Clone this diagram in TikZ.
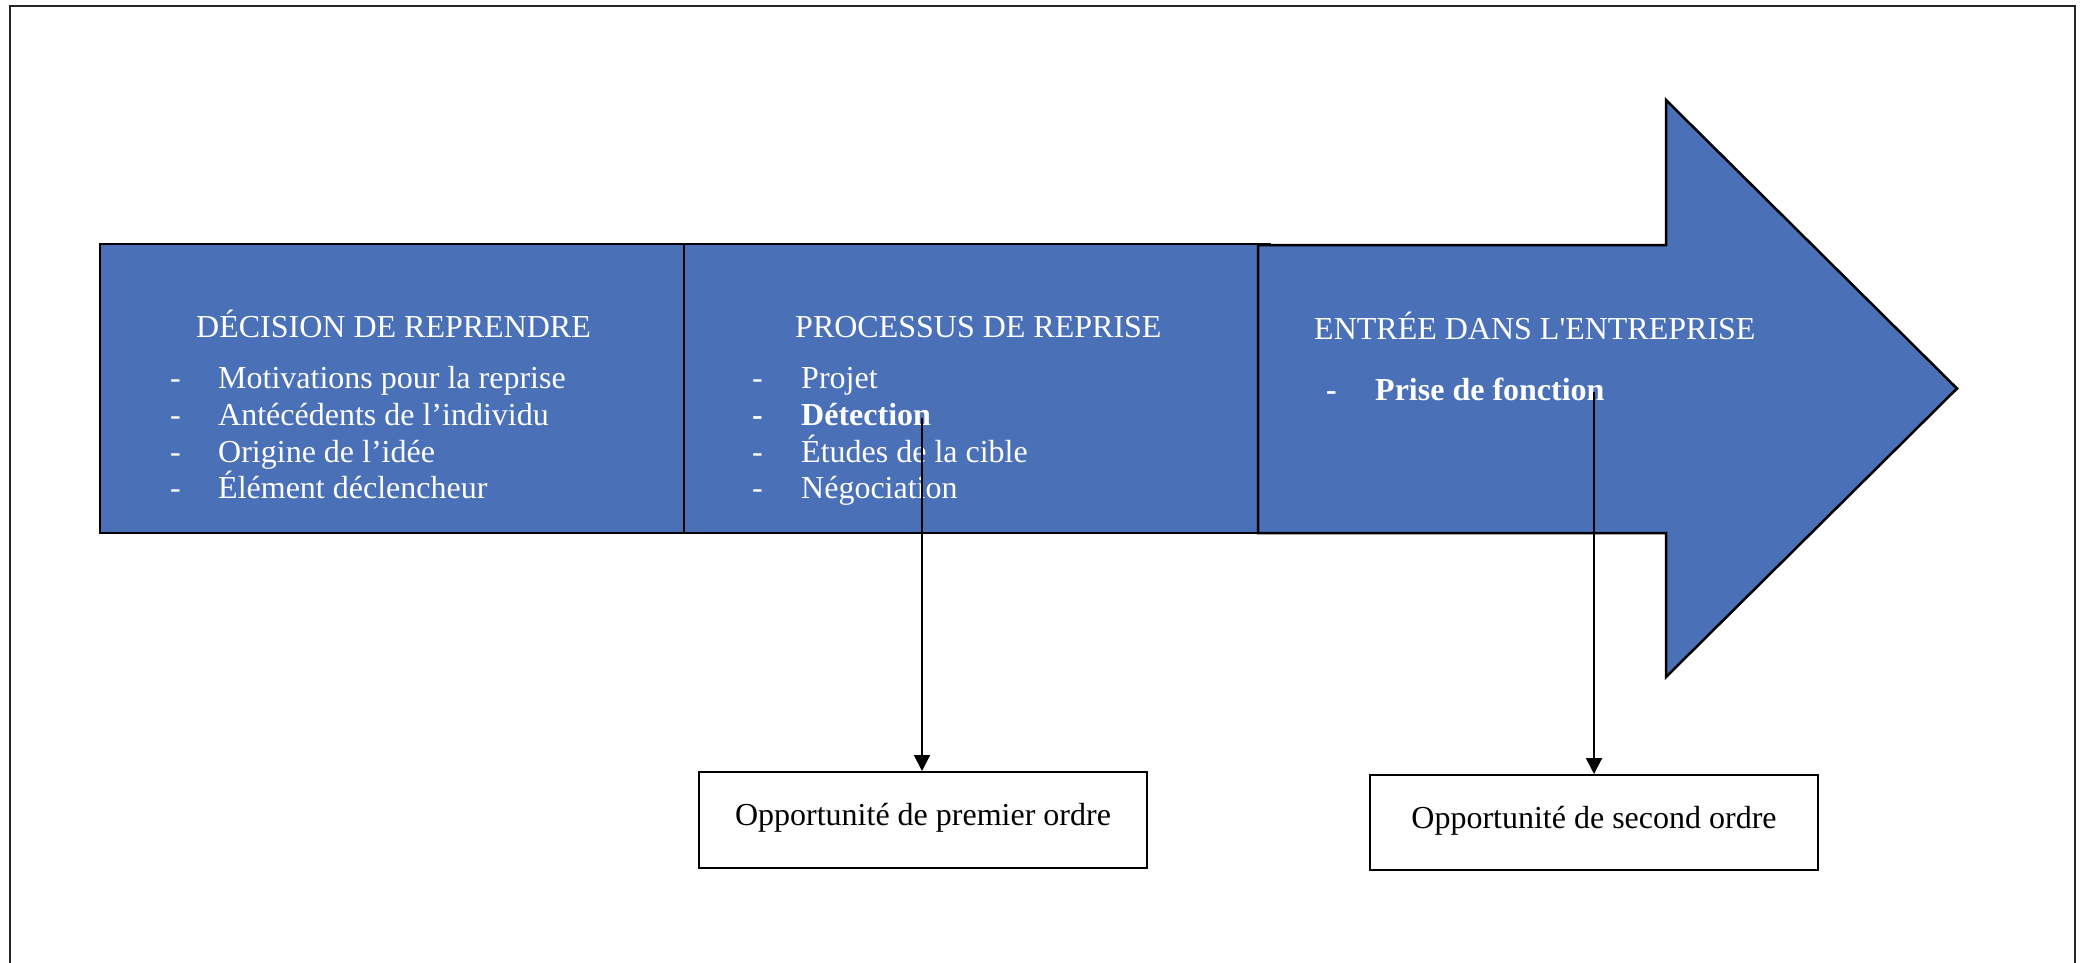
\documentclass[tikz,border=0pt]{standalone}
\usepackage{fontspec}
\setmainfont{Liberation Serif}
\usetikzlibrary{arrows.meta}
\definecolor{stepblue}{RGB}{74,112,183}
\begin{document}
\begin{tikzpicture}[x=1pt,y=-1pt,
  bluebox/.style={draw=black,fill=stepblue,line width=2.5pt,inner sep=0pt},
  wtxt/.style={text=white,anchor=base west,inner sep=0pt,font=\fontsize{32}{37}\selectfont},
  btxt/.style={text=white,anchor=base west,inner sep=0pt,font=\fontsize{32}{37}\selectfont\bfseries},
  opbox/.style={draw=black,fill=white,line width=2pt,inner sep=0pt,minimum width=448pt},
  optxt/.style={anchor=base,inner sep=0pt,font=\fontsize{32}{37}\selectfont},
  conn/.style={line width=2pt,-{Triangle[width=16pt,length=16pt]}},
  frame/.style={line width=2pt,draw=black!85}]
\useasboundingbox (0,0) rectangle (2085,963);
% outer frame (open at the bottom)
\draw[frame] (10,963) -- (10,6) -- (2075,6) -- (2075,963);
% blue boxes
\node[bluebox,minimum width=584pt,minimum height=289pt] (b1) at (392,388.5) {};
\node[bluebox,minimum width=586pt,minimum height=289pt] (b2) at (977,388.5) {};
% big arrow
\draw[bluebox] (1258,245) -- (1666,245) -- (1666,100) -- (1957,388.5) -- (1666,677) -- (1666,533) -- (1258,533) -- cycle;
% texts box 1
\node[wtxt] (t1) at (196,337) {DÉCISION DE REPRENDRE};
\node[wtxt] (d11) at (170,388) {-};
\node[wtxt] (i11) at (218,388) {Motivations pour la reprise};
\node[wtxt] (d12) at (170,425) {-};
\node[wtxt] (i12) at (218,425) {Antécédents de l’individu};
\node[wtxt] (d13) at (170,462) {-};
\node[wtxt] (i13) at (218,462) {Origine de l’idée};
\node[wtxt] (d14) at (170,498) {-};
\node[wtxt] (i14) at (218,498) {Élément déclencheur};
% texts box 2
\node[wtxt] (t2) at (795,337) {PROCESSUS DE REPRISE};
\node[wtxt] (d21) at (752,388) {-};
\node[wtxt] (i21) at (801,388) {Projet};
\node[btxt] (d22) at (752,425) {-};
\node[btxt] (i22) at (801,425) {Détection};
\node[wtxt] (d23) at (752,462) {-};
\node[wtxt] (i23) at (801,462) {Études de la cible};
\node[wtxt] (d24) at (752,498) {-};
\node[wtxt] (i24) at (801,498) {Négociation};
% texts arrow
\node[wtxt] (t3) at (1314,339) {ENTRÉE DANS L\textquotesingle ENTREPRISE};
\node[btxt] (d31) at (1326,400) {-};
\node[btxt] (i31) at (1375,400) {Prise de fonction};
% opportunity boxes
\node[opbox,minimum height=96pt] (op1) at (923,820) {};
\node[optxt] (o1) at (923,825) {Opportunité de premier ordre};
\node[opbox,minimum height=95pt] (op2) at (1594,822.5) {};
\node[optxt] (o2) at (1594,828) {Opportunité de second ordre};
% connectors
\coordinate (c1) at (922,418);
\coordinate (c2) at (1594,392);
\draw[conn] (c1) -- (c1 |- op1.north);
\draw[conn] (c2) -- (c2 |- op2.north);
\end{tikzpicture}
\end{document}
